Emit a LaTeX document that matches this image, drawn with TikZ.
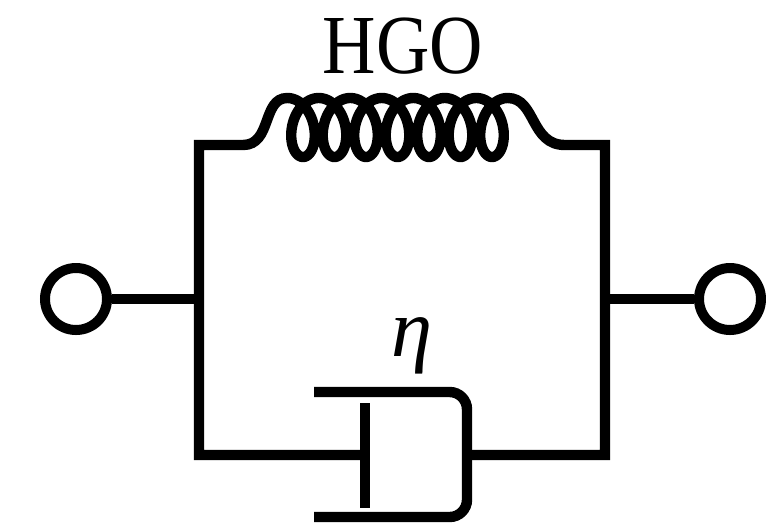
\documentclass[tikz,border=0pt]{standalone}
\usepackage{fontspec}
\setmainfont{Liberation Serif}
\tikzset{
  wire/.style={line width=7.8pt,line join=miter,line cap=butt},
  term/.style={circle,draw,line width=7.5pt,minimum size=46.5pt,inner sep=0pt,fill=white},
  lab/.style={inner sep=0pt,text=black}
}
\begin{document}
\begin{tikzpicture}[x=0.75pt,y=-0.75pt]
\useasboundingbox (0,0) rectangle (766,526);
\node[term] (tl) at (76,299) {};
\node[term] (tr) at (730,299) {};
\coordinate (jl) at (199,298);
\coordinate (jr) at (605,298);
\coordinate (tlc) at (199,145);
\coordinate (trc) at (605,145);
\coordinate (blc) at (199,455);
\coordinate (brc) at (605,455);
\coordinate (cl) at (287.25,98);
\coordinate (cr) at (507.75,98);
\coordinate (pist) at (365,455);
\coordinate (pt) at (365,403);
\coordinate (pb) at (365,508);
\coordinate (cyl) at (467,455);
\coordinate (cta) at (314,392);
\coordinate (ctb) at (467,392);
\coordinate (cba) at (314,517);
\coordinate (cbb) at (467,517);
% terminals
\draw[wire] (tl) -- (tl -| jl);
\draw[wire] (tr) -- (tr -| jr);
% frame with coil, one continuous line
\draw[wire] (pist) -- (blc) -- (tlc) -- (243,145)
  .. controls (272,145) and (262,98) .. (cl)
  -- plot[domain=-180:2340,samples=500,variable=\t]
  ({303+0.0875*\t-19*sin(\t)},{127.5+29.5*cos(\t)})
  .. controls (536,98) and (530,145) .. (565,145) -- (trc) -- (brc) -- (cyl);
% dashpot
\draw[wire] (pt) -- (pb);
\draw[wire,rounded corners=13pt] (cta) -- (ctb) -- (cbb) -- (cba);
% labels
\node[lab] (hgo) at (403,46) {\scalebox{0.88}[1]{\fontsize{63}{63}\selectfont HGO}};
\node[lab] (eta) at (412,346) {\fontsize{62}{62}\selectfont\itshape η};
\end{tikzpicture}
\end{document}
